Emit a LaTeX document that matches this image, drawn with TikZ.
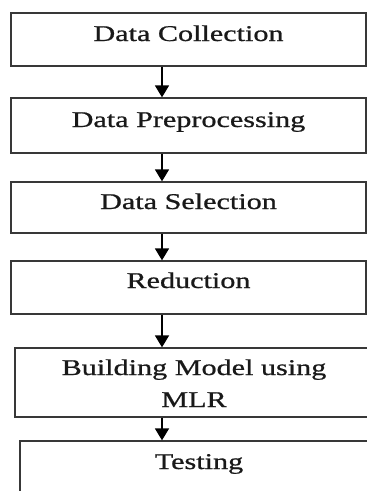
\documentclass[tikz,border=0pt]{standalone}
\usepackage{fontspec}
\setmainfont[FakeBold=0.7]{Liberation Serif}
\usetikzlibrary{arrows.meta}
\tikzset{
  box/.style={draw=black!78, line width=1.3pt, rectangle, inner sep=0pt, fill=none},
  lbl/.style={inner sep=0pt, text=black!90, font=\fontsize{22.5}{32}\selectfont, align=center},
  arr/.style={draw=black, line width=1.8pt, -{Triangle[width=14pt,length=12pt]}}
}
\newcommand{\sx}[1]{\scalebox{1.34}[1]{#1}}
\begin{document}
\begin{tikzpicture}[x=1pt,y=-1pt]
\useasboundingbox (0,0) rectangle (367,491);
\node[box, minimum width=355pt, minimum height=53pt] (b1) at (188.5,39.5) {};
\node[box, minimum width=355pt, minimum height=55pt] (b2) at (188.5,125.5) {};
\node[box, minimum width=355pt, minimum height=51pt] (b3) at (188.5,207.5) {};
\node[box, minimum width=355pt, minimum height=53pt] (b4) at (188.5,287.5) {};
\node[box, minimum width=358pt, minimum height=69pt] (b5) at (194,382.5) {};
\node[box, minimum width=360pt, minimum height=79pt] (b6) at (200,480.5) {};
\node[lbl, anchor=base] (t1) at (188.5,41) {\sx{Data Collection}};
\node[lbl, anchor=base] (t2) at (188.5,127) {\sx{Data Preprocessing}};
\node[lbl, anchor=base] (t3) at (188.5,209) {\sx{Data Selection}};
\node[lbl, anchor=base] (t4) at (188.5,288) {\sx{Reduction}};
\node[lbl, anchor=base] (t5) at (194,407) {\sx{Building Model using}\\\sx{MLR}};
\node[lbl, anchor=base] (t6) at (199,469) {\sx{Testing}};
\coordinate (ax) at (162,0);
\draw[arr] (b1.south -| ax) -- (b2.north -| ax);
\draw[arr] (b2.south -| ax) -- (b3.north -| ax);
\draw[arr] (b3.south -| ax) -- (b4.north -| ax);
\draw[arr] (b4.south -| ax) -- (b5.north -| ax);
\draw[arr] (b5.south -| ax) -- (b6.north -| ax);
\end{tikzpicture}
\end{document}
